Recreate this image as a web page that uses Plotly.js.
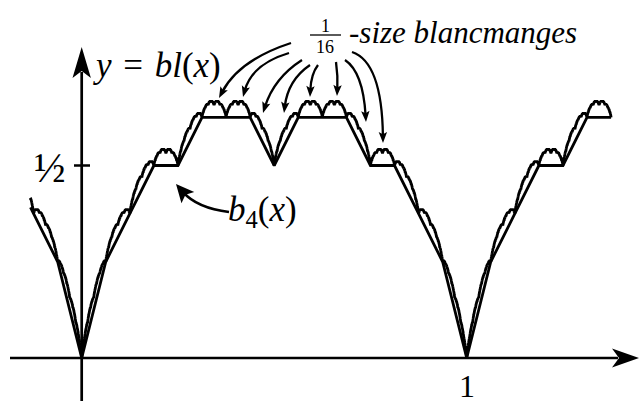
<!DOCTYPE html>
<html>
<head>
<meta charset="utf-8">
<script src="https://cdn.plot.ly/plotly-3.0.1.min.js"></script>
<style>html,body{margin:0;padding:0;background:#fff}</style>
</head>
<body>
<div id="chart" style="width:639px;height:403px"></div>
<script>
// b4(x) at x = k/16 for k = 0..16, in sixteenths (one period, b4 has period 1)
const b4Sixteenths = [0, 4, 6, 8, 8, 10, 10, 10, 8, 10, 10, 10, 8, 8, 6, 4, 0];
// bl(x) = b4(x) + bl(16x)/16 : b4 topped by 1/16-size copies of bl itself
const copyScale = 16;
const copyDepth = 3;
// x interval over which both curves are drawn
const xDomain = [-0.133, 1.375];
// labelled ticks
const yTickVals = [0.5];
const yTickText = ['\u00BD'];
const xTickVals = [1];
const xTickText = ['1'];

// figure geometry: pixel position of the origin and the length of one unit
const W = 639, H = 403;
const originPx = [81.7, 358];
const unitPx = 385;
const toX = px => (px - originPx[0]) / unitPx;
const toY = py => (originPx[1] - py) / unitPx;
const P = p => toX(p[0]) + ',' + toY(p[1]);

function b4(x) {
  const f = x - Math.floor(x);
  const t = f * 16;
  let k = Math.floor(t);
  if (k >= 16) k = 15;
  const r = t - k;
  return (b4Sixteenths[k] * (1 - r) + b4Sixteenths[k + 1] * r) / 16;
}
function bl(x, depth) {
  return depth === 0 ? b4(x) : b4(x) + bl(copyScale * x, depth - 1) / copyScale;
}

// fine sampling for bl (exact at dyadic points)
const step = 1 / 4096;
const blX = [xDomain[0]];
for (let i = Math.ceil(xDomain[0] / step); i <= Math.floor(xDomain[1] / step + 1e-9); i++) blX.push(i * step);
const blY = blX.map(x => bl(x, copyDepth));

// b4 is a polygon with corners at multiples of 1/16
const b4X = [xDomain[0]];
for (let k = Math.ceil(xDomain[0] * 16); k <= Math.floor(xDomain[1] * 16 + 1e-9); k++) b4X.push(k / 16);
const b4Y = b4X.map(b4);

const curveLine = {color: '#000', width: 2.8, simplify: false};
const traces = [
  {x: b4X, y: b4Y, mode: 'lines', line: curveLine, hoverinfo: 'skip', name: 'b4(x)'},
  {x: blX, y: blY, mode: 'lines', line: curveLine, hoverinfo: 'skip', name: 'bl(x)'}
];

const shapes = [];
const ink = '#000';
// axes
shapes.push({type: 'line', xref: 'x', yref: 'y', x0: toX(10), x1: toX(618), y0: 0, y1: 0, line: {color: ink, width: 2.7}});
shapes.push({type: 'line', xref: 'x', yref: 'y', x0: 0, x1: 0, y0: toY(401), y1: toY(72), line: {color: ink, width: 2.7}});
// axis arrowheads
shapes.push({type: 'path', xref: 'x', yref: 'y', fillcolor: ink, line: {width: 0},
  path: 'M' + P([639, 358]) + 'L' + P([612, 348.5]) + 'L' + P([619, 358]) + 'L' + P([612, 367.5]) + 'Z'});
shapes.push({type: 'path', xref: 'x', yref: 'y', fillcolor: ink, line: {width: 0},
  path: 'M' + P([81.7, 47]) + 'L' + P([72.5, 78]) + 'L' + P([81.7, 71]) + 'L' + P([90.9, 78]) + 'Z'});
// tick marks
yTickVals.forEach(v => shapes.push({type: 'line', xref: 'x', yref: 'y', x0: toX(74), x1: toX(90), y0: v, y1: v, line: {color: ink, width: 2.5}}));

// curved pointer: start, control, end (pixels), head length / half width
function pointer(s, c, e, len, half, width) {
  const dx = e[0] - c[0], dy = e[1] - c[1];
  const L = Math.hypot(dx, dy);
  const ux = dx / L, uy = dy / L;
  const back = [e[0] - ux * len, e[1] - uy * len];
  const bodyEnd = [e[0] - ux * len * 0.6, e[1] - uy * len * 0.6];
  const notch = [e[0] - ux * len * 0.8, e[1] - uy * len * 0.8];
  const b1 = [back[0] - uy * half, back[1] + ux * half];
  const b2 = [back[0] + uy * half, back[1] - ux * half];
  shapes.push({type: 'path', xref: 'x', yref: 'y', line: {color: ink, width: width},
    path: 'M' + P(s) + 'Q' + P(c) + ' ' + P(bodyEnd)});
  shapes.push({type: 'path', xref: 'x', yref: 'y', fillcolor: ink, line: {width: 0},
    path: 'M' + P(e) + 'L' + P(b1) + 'L' + P(notch) + 'L' + P(b2) + 'Z'});
}
// arrows from the "1/16-size blancmanges" label
pointer([291, 43], [239, 60], [219, 98], 11, 4.2, 2.3);
pointer([289, 53], [252, 64], [243, 97], 11, 4.2, 2.3);
pointer([302, 60], [274, 78], [263, 113], 11, 4.2, 2.3);
pointer([310, 65], [288, 80], [284, 113], 11, 4.2, 2.3);
pointer([318, 65], [311, 74], [310, 97], 11, 4.2, 2.3);
pointer([336, 62], [338, 76], [337, 96], 11, 4.2, 2.3);
pointer([345, 60], [363, 72], [366, 122], 11, 4.2, 2.3);
pointer([352, 52], [382, 62], [383, 143], 11, 4.2, 2.3);
// arrow from the b4(x) label
pointer([229, 212], [197, 208], [176, 184], 18, 8.5, 2.6);
// fraction bar of 1/16
shapes.push({type: 'line', xref: 'x', yref: 'y', x0: toX(310), x1: toX(341), y0: toY(35), y1: toY(35), line: {color: ink, width: 1.3}});

const serif = 'Liberation Serif, Times New Roman, serif';
const txt = (text, px, py, size, xanchor) => ({
  text: text, x: toX(px), y: toY(py), xref: 'x', yref: 'y', showarrow: false, borderpad: 0,
  xanchor: xanchor || 'center', yanchor: 'middle', font: {family: serif, size: size, color: ink}
});
const annotations = [
  txt('<i>y</i>\u2004=\u2004<i>bl</i>(<i>x</i>)', 92, 65, 35, 'left'),
  txt('<i>b</i><sub>4</sub>(<i>x</i>)', 227, 211, 35, 'left'),
  txt('1', 325, 25.5, 18),
  txt('16', 325, 47, 18),
  txt('<i>-size blancmanges</i>', 348, 32, 31, 'left')
];
yTickVals.forEach((v, i) => annotations.push({text: yTickText[i], x: toX(50), y: v - 2 / unitPx, xref: 'x', yref: 'y',
  showarrow: false, xanchor: 'center', yanchor: 'middle', font: {family: serif, size: 42, color: ink}}));
xTickVals.forEach((v, i) => annotations.push({text: xTickText[i], x: v, y: toY(386), xref: 'x', yref: 'y',
  showarrow: false, xanchor: 'center', yanchor: 'middle', font: {family: serif, size: 32, color: ink}}));

const layout = {
  width: W, height: H,
  margin: {l: 0, r: 0, t: 0, b: 0, pad: 0},
  paper_bgcolor: '#fff', plot_bgcolor: '#fff',
  showlegend: false,
  xaxis: {range: [-originPx[0] / unitPx, (W - originPx[0]) / unitPx], visible: false, fixedrange: true},
  yaxis: {range: [-(H - originPx[1]) / unitPx, originPx[1] / unitPx], visible: false, fixedrange: true},
  shapes: shapes,
  annotations: annotations
};
Plotly.newPlot('chart', traces, layout, {staticPlot: true, displayModeBar: false});
</script>
</body>
</html>
